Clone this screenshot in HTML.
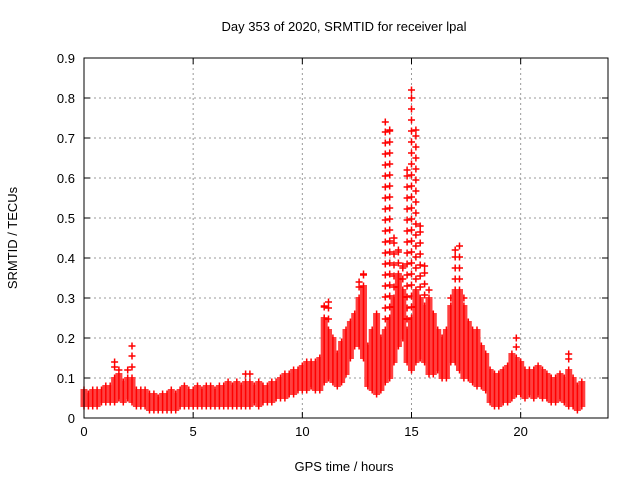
<!DOCTYPE html>
<html><head><meta charset="utf-8"><style>
body{margin:0;background:#fff}
svg{display:block;font-family:"Liberation Sans",sans-serif}
</style></head><body>
<svg id="chart" width="640" height="480">
<text x="344" y="31" text-anchor="middle" font-size="13">Day 353 of 2020, SRMTID for receiver lpal</text>
<text x="344" y="471" text-anchor="middle" font-size="13">GPS time / hours</text>
<text transform="translate(17,238) rotate(-90)" text-anchor="middle" font-size="13">SRMTID / TECUs</text>
<g id="grid"></g>
<g id="marks"></g>
<rect x="84" y="58" width="524" height="360" fill="none" stroke="#000"/>
</svg>
<script>
const xTicks=[0,5,10,15,20];
const yTicks=[0,0.1,0.2,0.3,0.4,0.5,0.6,0.7,0.8,0.9];
const yTickLabels=["0","0.1","0.2","0.3","0.4","0.5","0.6","0.7","0.8","0.9"];
const times=[0,0.2,0.4,0.6,0.8,1,1.2,1.4,1.6,1.8,2,2.2,2.4,2.6,2.8,3,3.2,3.4,3.6,3.8,4,4.2,4.4,4.6,4.8,5,5.2,5.4,5.6,5.8,6,6.2,6.4,6.6,6.8,7,7.2,7.4,7.6,7.8,8,8.2,8.4,8.6,8.8,9,9.2,9.4,9.6,9.8,10,10.2,10.4,10.6,10.8,11,11.2,11.4,11.6,11.8,12,12.2,12.4,12.6,12.8,13,13.2,13.4,13.6,13.8,14,14.2,14.4,14.6,14.8,15,15.2,15.4,15.6,15.8,16,16.2,16.4,16.6,16.8,17,17.2,17.4,17.6,17.8,18,18.2,18.4,18.6,18.8,19,19.2,19.4,19.6,19.8,20,20.2,20.4,20.6,20.8,21,21.2,21.4,21.6,21.8,22,22.2,22.4,22.6,22.8];
const lowVals=[.03,.03,.03,.03,.04,.04,.04,.04,.05,.04,.05,.04,.03,.03,.03,.02,.02,.02,.02,.02,.02,.02,.03,.03,.03,.03,.03,.03,.03,.03,.03,.03,.03,.03,.03,.03,.03,.03,.03,.04,.03,.04,.04,.04,.05,.05,.05,.06,.06,.07,.07,.07,.08,.07,.07,.09,.10,.09,.08,.09,.11,.15,.18,.18,.15,.08,.07,.06,.07,.09,.10,.14,.18,.20,.14,.12,.14,.15,.14,.11,.11,.12,.10,.10,.14,.14,.12,.10,.10,.09,.08,.08,.07,.04,.03,.03,.04,.04,.05,.06,.06,.05,.06,.05,.06,.05,.05,.04,.04,.05,.04,.03,.03,.02,.03];
const highVals=[.07,.06,.07,.07,.07,.08,.08,.10,.11,.09,.10,.10,.07,.07,.07,.06,.06,.05,.06,.06,.07,.06,.07,.08,.07,.07,.08,.07,.08,.08,.07,.08,.08,.09,.08,.09,.08,.09,.09,.08,.09,.08,.08,.09,.09,.10,.11,.11,.12,.12,.13,.14,.14,.14,.15,.25,.22,.20,.16,.19,.22,.24,.26,.30,.33,.18,.22,.26,.20,.22,.25,.30,.36,.32,.22,.25,.32,.30,.28,.30,.26,.22,.20,.22,.28,.32,.32,.28,.24,.22,.22,.18,.16,.12,.11,.11,.12,.13,.16,.15,.14,.12,.12,.12,.13,.12,.11,.10,.10,.11,.10,.12,.10,.08,.09];
const peakVals=[.07,.06,.07,.07,.07,.08,.08,.14,.12,.09,.12,.18,.07,.07,.07,.06,.06,.05,.06,.06,.07,.06,.07,.08,.07,.07,.08,.07,.08,.08,.07,.08,.08,.09,.08,.09,.08,.11,.11,.08,.09,.08,.08,.09,.09,.10,.11,.11,.12,.12,.13,.14,.14,.14,.15,.28,.29,.20,.16,.19,.22,.24,.26,.34,.36,.18,.22,.26,.20,.74,.72,.45,.42,.38,.62,.82,.72,.48,.38,.32,.26,.22,.20,.22,.30,.42,.43,.30,.24,.22,.22,.18,.16,.12,.11,.11,.12,.13,.16,.20,.14,.12,.12,.12,.13,.12,.11,.10,.10,.11,.10,.16,.10,.08,.09];
const NS="http://www.w3.org/2000/svg";
const X0=84,X1=608,Y0=418,Y1=58,XMAX=24,YMAX=0.9;
function sx(t){return X0+(X1-X0)*t/XMAX;}
function sy(v){return Y0-(Y0-Y1)*v/YMAX;}
const grid=document.getElementById('grid');
function mk(tag,attrs,parent){const e=document.createElementNS(NS,tag);for(const k in attrs)e.setAttribute(k,attrs[k]);parent.appendChild(e);return e;}
xTicks.forEach(t=>{
  const x=sx(t);
  if(t>0){const l=mk('line',{x1:x,x2:x,y1:Y1,y2:Y0,stroke:'#999','stroke-dasharray':'2,3'},grid);
  
  }
  mk('line',{x1:x,x2:x,y1:Y0,y2:Y0-6,stroke:'#000'},grid);
  mk('line',{x1:x,x2:x,y1:Y1,y2:Y1+6,stroke:'#000'},grid);
  const tx=mk('text',{x:x,y:Y0+18,'text-anchor':'middle','font-size':'13'},grid);
  tx.textContent=String(t);
  
  
});
yTicks.forEach((v,i)=>{
  const y=sy(v);
  if(v>0&&v<YMAX){const l=mk('line',{x1:X0,x2:X1,y1:y,y2:y,stroke:'#999','stroke-dasharray':'2,3'},grid);
  
  }
  mk('line',{x1:X0,x2:X0+6,y1:y,y2:y,stroke:'#000'},grid);
  mk('line',{x1:X1,x2:X1-6,y1:y,y2:y,stroke:'#000'},grid);
  const tx=mk('text',{x:X0-9,y:y+5,'text-anchor':'end','font-size':'13'},grid);
  tx.textContent=yTickLabels[i];
  
  
});
const marks=document.getElementById('marks');
let d='';
function cross(x,y){d+=`M${(x-3.5).toFixed(1)} ${y.toFixed(1)}h7M${x.toFixed(1)} ${(y-3.5).toFixed(1)}v7`;}
times.forEach((t,i)=>{
  const x=sx(t),yl=sy(lowVals[i]),yh=sy(highVals[i]),yp=sy(peakVals[i]);
  for(let y=yl;y>=yh;y-=2)cross(x,y);
  cross(x,yh);
  for(let y=yh-11;y>yp;y-=11)cross(x,y);
  cross(x,yp);
});
const p=mk('path',{d:d,stroke:'#f00','stroke-width':'1.5',fill:'none'},marks);


</script>
</body></html>
